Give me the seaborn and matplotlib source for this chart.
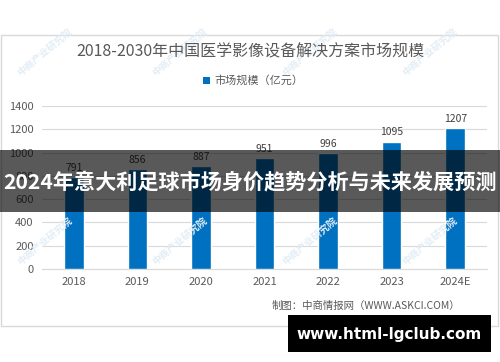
import seaborn as sns
import matplotlib.pyplot as plt
import pandas as pd
from matplotlib.patches import Rectangle

# datos del grafico
anios = ["2018", "2019", "2020", "2021", "2022", "2023", "2024E"]
mercado = [791, 856, 887, 951, 996, 1095, 1207]
titulo = "2018-2030年中国医学影像设备解决方案市场规模"
leyenda = "市场规模（亿元）"
fuente = "制图：中商情报网（WWW.ASKCI.COM）"
banda = "2024年意大利足球市场身价趋势分析与未来发展预测"
sitio = "www.html-lgclub.com"
marca = "中商产业研究院"

sns.set_style("white")
plt.rcParams['font.family'] = ['Noto Sans CJK SC', 'DejaVu Sans']

df = pd.DataFrame({"anio": anios, "valor": mercado})

fig = plt.figure(figsize=(5, 3.62), dpi=100)
gris = "#595959"

# marco del grafico
fig.patches.append(Rectangle((0.002, 1 - 326 / 362), 0.994, 291 / 362, transform=fig.transFigure,
                             fill=False, edgecolor="#D9D9D9", linewidth=1, zorder=0))

# marcas de agua
for fx in [0.03, 0.30, 0.56, 0.80]:
    for fy in [0.79, 0.27]:
        fig.text(fx, fy, marca, rotation=40, fontsize=7, color="#E2EDF6",
                 fontweight="bold", zorder=0)

ax = fig.add_axes([0.084, 1 - 269 / 362, 0.89, 163 / 362])
ax.set_facecolor("none")
sns.barplot(data=df, x="anio", y="valor", color="#0070C0", width=0.31, saturation=1, ax=ax, zorder=3)
ax.bar_label(ax.containers[0], padding=3, fontsize=7.5, color="#404040")
ax.set_ylim(0, 1400)
ax.set_xlim(-0.5, 6.5)
ax.set_yticks(range(0, 1401, 200))
ax.yaxis.grid(True, color="#D9D9D9", linewidth=0.8, zorder=0)
ax.set_axisbelow(True)
for s in ["top", "right", "left"]:
    ax.spines[s].set_visible(False)
ax.spines["bottom"].set_color("#D9D9D9")
ax.tick_params(axis="both", length=0, labelsize=8, labelcolor=gris, pad=6)
ax.set_xlabel("")
ax.set_ylabel("")

fig.text(0.5, 1 - 52 / 362, titulo, ha="center", va="center", fontsize=11.5, color=gris)
fig.patches.append(Rectangle((203 / 500, 1 - 84 / 362), 7 / 500, 7 / 362, transform=fig.transFigure,
                             facecolor="#0070C0", edgecolor="none"))
fig.text(214 / 500, 1 - 80 / 362, leyenda, ha="left", va="center", fontsize=8, color=gris)
fig.text(460 / 500, 1 - 306 / 362, fuente, ha="right", va="center", fontsize=7.5, color=gris)

# banda oscura superpuesta
fig.patches.append(Rectangle((0, 1 - 212 / 362), 1, 62 / 362, transform=fig.transFigure,
                             facecolor="black", alpha=0.65, edgecolor="none", zorder=5))
fig.text(0.5, 1 - 183 / 362, banda, ha="center", va="center", fontsize=15.2, color="white",
         fontweight="bold", zorder=6)

# recuadro del sitio
fig.patches.append(Rectangle((288 / 500, 1 - 352 / 362), 203 / 500, 37 / 362, transform=fig.transFigure,
                             facecolor="black", edgecolor="none", zorder=5))
fig.text(389 / 500, 1 - 335 / 362, sitio, ha="center", va="center", fontsize=11, color="white",
         fontweight="bold", family="DejaVu Sans", zorder=6)

fig.savefig("out.png", dpi=100)
